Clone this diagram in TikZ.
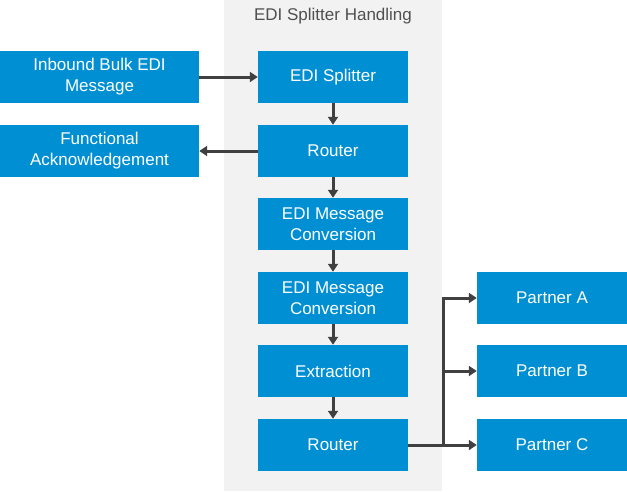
\documentclass[tikz,border=0pt]{standalone}
\usepackage{fontspec}
\setmainfont{Liberation Sans}
\usetikzlibrary{arrows.meta}
\definecolor{boxblue}{RGB}{0,143,211}
\definecolor{panelgray}{RGB}{242,242,242}
\definecolor{linegray}{RGB}{64,64,64}
\definecolor{titlegray}{RGB}{80,80,80}
\begin{document}
\begin{tikzpicture}[x=1pt,y=-1pt,
  blk/.style={fill=boxblue,draw=none,text=white,minimum width=150pt,minimum height=52pt,
    inner sep=0pt,align=center,font=\fontsize{17}{21}\selectfont},
  wideblk/.style={blk,minimum width=199pt},
  conn/.style={draw=linegray,line width=3pt,-{Triangle[length=8pt,width=10pt]}},
  wire/.style={draw=linegray,line width=3pt}]
\useasboundingbox (0,0) rectangle (627,491);
\fill[panelgray] (224,0) rectangle (442,491);
\node[text=titlegray,font=\fontsize{17}{21}\selectfont] (title) at (333,16) {EDI Splitter Handling};
\node[wideblk] (inb) at (99.5,77) {Inbound Bulk EDI\\Message};
\node[wideblk] (fa) at (99.5,151) {Functional\\Acknowledgement};
\node[blk] (split) at (333,77) {EDI Splitter};
\node[blk] (r1) at (333,151) {Router};
\node[blk] (c1) at (333,224) {EDI Message\\Conversion};
\node[blk] (c2) at (333,298) {EDI Message\\Conversion};
\node[blk] (ext) at (333,371) {Extraction};
\node[blk] (r2) at (333,445) {Router};
\node[blk] (pa) at (552,298) {Partner A};
\node[blk] (pb) at (552,371) {Partner B};
\node[blk] (pc) at (552,445) {Partner C};
\coordinate (br) at (443,445);
\draw[conn] (inb) -- (split);
\draw[conn] (r1) -- (fa);
\draw[conn] (split) -- (r1);
\draw[conn] (r1) -- (c1);
\draw[conn] (c1) -- (c2);
\draw[conn] (c2) -- (ext);
\draw[conn] (ext) -- (r2);
\draw[wire] (r2.east) -- (br);
\draw[conn] (br) -- (pc);
\draw[conn] (br) |- (pb);
\draw[conn] (br) |- (pa);
\end{tikzpicture}
\end{document}
